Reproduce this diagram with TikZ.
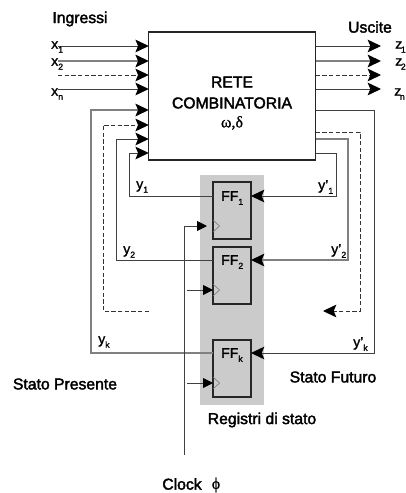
\documentclass[tikz,border=0pt]{standalone}
\usepackage{fontspec}
\usepackage{tikz}
\usepackage{xcolor}
\usetikzlibrary{arrows.meta}
\setmainfont{Liberation Sans}[FakeBold=1.3]
\newfontfamily\titolofont{Liberation Sans}[FakeBold=2.2]
\newfontfamily\grecofont{Liberation Serif}[FakeBold=1]
\newcommand{\ped}[1]{\raisebox{-3pt}{\fontsize{6.5}{7}\selectfont #1}}
\definecolor{grigioreg}{HTML}{CBCBCB}
\tikzset{
    filo/.style={line width=0.7pt, black!75},
    filogr/.style={line width=1pt, black!50},
    tratt/.style={line width=0.7pt, black!80, dash pattern=on 3.2pt off 1.8pt},
    freccia/.style={-{Stealth[length=10pt,width=9.5pt,inset=2pt,black]}},
    frecclk/.style={-{Triangle[length=7.5pt,width=7.5pt,black]}},
    blocco/.style={draw, line width=1pt, black!85, inner sep=0pt, outer sep=0pt},
    ffbox/.style={blocco, fill=grigioreg, minimum width=28.5pt, minimum height=42.75pt},
    clk/.style={line width=0.4pt, black!55},
    testo/.style={inner sep=0pt, font=\fontsize{11.8}{13}\titolofont},
    etich/.style={inner sep=0pt, font=\fontsize{10.5}{12}\selectfont},
    greco/.style={inner sep=0pt, font=\fontsize{12}{13}\grecofont}
}
\begin{document}
\begin{tikzpicture}[x=0.75pt, y=-0.75pt]
    \useasboundingbox (0,0) rectangle (406,493);
    % registri e rete
    \node[fill=grigioreg, inner sep=0pt, minimum width=48pt, minimum height=172.5pt] (registri) at (232,290) {};
    \node[blocco, fill=white, minimum width=125.25pt, minimum height=96pt] (rete) at (232.25,96) {};
    \node[testo] (rete1) at (232,82) {RETE};
    \node[testo] (rete2) at (232,103) {COMBINATORIA};
    \node[greco] (rete3) at (232,123) {ω,δ};
    \node[ffbox] (ff1) at (232,210.5) {};
    \node[ffbox] (ff2) at (232,275.5) {};
    \node[ffbox] (ffk) at (232,368.5) {};
    \node[etich, anchor=west] (tff1) at (221,198) {FF\ped{1}};
    \node[etich, anchor=west] (tff2) at (221,262) {FF\ped{2}};
    \node[etich, anchor=west] (tffk) at (221,355) {FF\ped{k}};
    % ingressi
    \coordinate (x1) at (58,46);
    \coordinate (x2) at (58,61);
    \coordinate (x3) at (58,75);
    \coordinate (xn) at (58,89);
    \draw[filo, freccia] (x1) -- (x1 -| rete.west);
    \draw[filogr, freccia] (x2) -- (x2 -| rete.west);
    \draw[tratt, freccia] (x3) -- (x3 -| rete.west);
    \draw[filo, freccia] (xn) -- (xn -| rete.west);
    % uscite
    \coordinate (z1) at (381,46);
    \coordinate (z2) at (381,61);
    \coordinate (z3) at (381,75);
    \coordinate (zn) at (381,89);
    \draw[filo, freccia] (z1 -| rete.east) -- (z1);
    \draw[filogr, freccia] (z2 -| rete.east) -- (z2);
    \draw[tratt, freccia] (z3 -| rete.east) -- (z3);
    \draw[filo, freccia] (zn -| rete.east) -- (zn);
    % stato presente
    \coordinate (py1) at (129,196);
    \coordinate (py2) at (116,260);
    \coordinate (pyd) at (103,311);
    \coordinate (pyk) at (91,353);
    \coordinate (ey1) at (129,153);
    \coordinate (ey2) at (116,139);
    \coordinate (eyd) at (103,125);
    \coordinate (eyk) at (91,110);
    \coordinate (fyd) at (149,311);
    \draw[filo, freccia] (ff1.west |- py1) -- (py1) -- (ey1) -- (ey1 -| rete.west);
    \draw[filo, freccia] (ff2.west |- py2) -- (py2) -- (ey2) -- (ey2 -| rete.west);
    \draw[tratt, freccia] (fyd) -- (pyd) -- (eyd) -- (eyd -| rete.west);
    \draw[filogr, freccia] (ffk.west |- pyk) -- (pyk) -- (eyk) -- (eyk -| rete.west);
    % stato futuro
    \coordinate (fy1) at (336,196);
    \coordinate (fy2) at (348,260);
    \coordinate (fyt) at (360,311);
    \coordinate (fyk) at (374,353);
    \coordinate (uy1) at (336,153);
    \coordinate (uy2) at (348,139);
    \coordinate (uyt) at (360,132);
    \coordinate (uyk) at (374,110);
    \coordinate (fine) at (323,311);
    \draw[filo, freccia] (uy1 -| rete.east) -- (uy1) -- (fy1) -- (fy1 -| ff1.east);
    \draw[filogr, freccia] (uy2 -| rete.east) -- (uy2) -- (fy2) -- (fy2 -| ff2.east);
    \draw[tratt, freccia] (uyt -| rete.east) -- (uyt) -- (fyt) -- (fine);
    \draw[filo, freccia] (uyk -| rete.east) -- (uyk) -- (fyk) -- (fyk -| ffk.east);
    % clock
    \coordinate (ck0) at (184,226);
    \coordinate (ckf) at (184,455);
    \coordinate (ck1) at (207,226);
    \coordinate (ck2) at (187,290);
    \coordinate (ck3) at (187,383);
    \draw[filo] (ckf) -- (ck0);
    \draw[filo, frecclk] (ck0) -- (ck1);
    \draw[filo, frecclk] (ck2) -- (ck2 -| ff2.west);
    \draw[filo, frecclk] (ck3) -- (ck3 -| ffk.west);
    \draw[clk] (213,220) -- (219.5,226) -- (213,232);
    \draw[clk] (213,284) -- (219.5,290) -- (213,296);
    \draw[clk] (213,377) -- (219.5,383) -- (213,389);
    % etichette
    \node[testo] (ingressi) at (80,19) {Ingressi};
    \node[testo] (uscite) at (370,27) {Uscite};
    \node[etich, anchor=west] (lx1) at (51,47) {x\ped{1}};
    \node[etich, anchor=west] (lx2) at (51,64) {x\ped{2}};
    \node[etich, anchor=west] (lxn) at (51,94) {x\ped{n}};
    \node[etich, anchor=west] (lz1) at (395,47) {z\kern-1pt\ped{1}};
    \node[etich, anchor=west] (lz2) at (395,64) {z\kern-1pt\ped{2}};
    \node[etich, anchor=west] (lzn) at (394,94) {z\kern-1pt\ped{n}};
    \node[etich, anchor=west] (ly1) at (136,187) {y\ped{1}};
    \node[etich, anchor=west] (ly2) at (123,252) {y\ped{2}};
    \node[etich, anchor=west] (lyk) at (98,342) {y\ped{k}};
    \node[etich, anchor=west] (lf1) at (318,187) {y'\ped{1}};
    \node[etich, anchor=west] (lf2) at (331,251) {y'\ped{2}};
    \node[etich, anchor=west] (lfk) at (353,344) {y'\ped{k}};
    \node[testo] (presente) at (65,384) {Stato Presente};
    \node[testo] (futuro) at (333,377) {Stato Futuro};
    \node[testo] (regstato) at (262,420) {Registri di stato};
    \node[testo] (clock) at (182,484) {Clock};
    \node[greco] (phi) at (216,485) {ϕ};
\end{tikzpicture}
\end{document}
